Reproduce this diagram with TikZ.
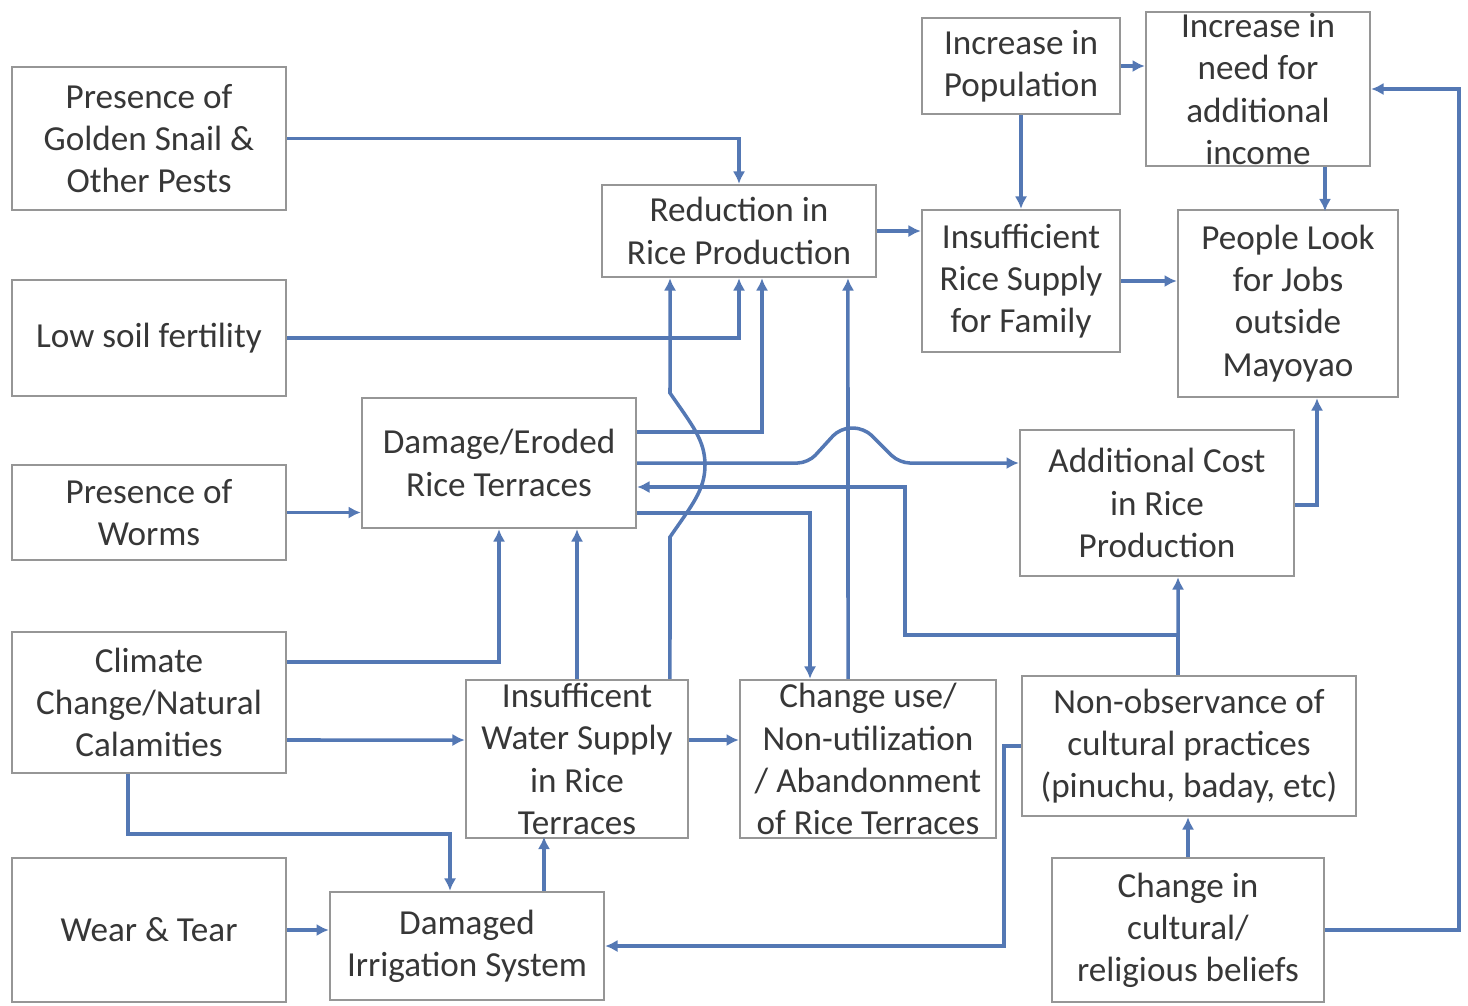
\documentclass[tikz,border=0pt]{standalone}
\usepackage{fontspec}
\setmainfont{Carlito}
\usetikzlibrary{arrows.meta}
\definecolor{linkblue}{RGB}{84,120,180}
\definecolor{boxgray}{RGB}{150,150,150}
\definecolor{labelgray}{RGB}{55,55,55}

\begin{document}
\begin{tikzpicture}[x=0.02cm, y=-0.02cm,
    box/.style 2 args={rectangle, draw=boxgray, line width=1.4pt, fill=white, text=labelgray,
      align=center, inner sep=0pt, minimum width=#1, minimum height=#2,
      font=\fontsize{20}{24}\selectfont},
    link/.style={draw=linkblue, line width=2pt, -{Latex[length=7pt,width=7pt]}}]
      \useasboundingbox (0,0) rectangle (1468,1005);
      \draw
        (149,138.5) node[box={5.48cm}{2.86cm}] (snail){Presence of\\Golden Snail \&\\Other Pests}
        (149,338) node[box={5.48cm}{2.32cm}] (soil){Low soil fertility}
        (149,512.5) node[box={5.48cm}{1.90cm}] (worms){Presence of\\Worms}
        (149,702.5) node[box={5.48cm}{2.82cm}] (climate){Climate\\Change/Natural\\Calamities}
        (149,930) node[box={5.48cm}{2.88cm}] (wear){Wear \& Tear}
        (499,463) node[box={5.48cm}{2.60cm}] (damage){Damage/Eroded\\Rice Terraces}
        (739,231) node[box={5.48cm}{1.84cm}] (reduction){Reduction in\\Rice Production}
        (577,759) node[box={4.44cm}{3.16cm}] (water){Insufficent\\Water Supply\\in Rice\\Terraces}
        (467,946) node[box={5.48cm}{2.16cm}] (irrig){Damaged\\Irrigation System}
        (868,759) node[box={5.12cm}{3.16cm}] (change){Change use/\\Non-utilization\\/ Abandonment\\of Rice Terraces}
        (1189,746) node[box={6.68cm}{2.80cm}] (nonobs){Non-observance of\\cultural practices\\(pinuchu, baday, etc)}
        (1188,930) node[box={5.44cm}{2.88cm}] (beliefs){Change in\\cultural/\\religious beliefs}
        (1157,503) node[box={5.48cm}{2.92cm}] (addcost){Additional Cost\\in Rice\\Production}
        (1021,66) node[box={3.96cm}{1.92cm}] (popul){Increase in\\Population}
        (1258,89) node[box={4.48cm}{3.08cm}] (need){Increase in\\need for\\additional\\income}
        (1021,281) node[box={3.96cm}{2.84cm}] (insuff){Insufficient\\Rice Supply\\for Family}
        (1288,303.5) node[box={4.40cm}{3.74cm}] (people){People Look\\for Jobs\\outside\\Mayoyao};
      \begin{scope}[link]
        \draw (snail.east) -| (reduction.north);
        \draw (soil.east) -| (reduction.south);
        \draw (worms.east) -- (worms.east -| damage.west);
        \draw ([yshift=0.62cm]damage.east) -| ([xshift=0.46cm]reduction.south);
        \draw[rounded corners=6pt] (damage.east) -- ++(171,0) -- ++(32,-35) -- ++(24,0) -- ++(35,35) -- ([yshift=0.8cm]addcost.west);
        \draw ([xshift=-0.22cm]nonobs.north) |- (905,635) |- ([yshift=-0.48cm]damage.east);
        \draw ([xshift=-0.22cm]nonobs.north) -- ([xshift=0.42cm]addcost.south);
        \draw ([yshift=-1cm]damage.east) -| ([xshift=-1.16cm]change.north);
        \draw ([yshift=0.81cm]climate.east) -| (damage.south);
        \draw ([yshift=-0.75cm]climate.east) -- ([yshift=0.38cm]water.west);
        \draw ([xshift=-0.42cm]climate.south) -- ++(0,60) -| ([xshift=-0.34cm]irrig.north);
        \draw (wear.east) -- (wear.east -| irrig.west);
        \draw ([xshift=1.54cm]irrig.north) -- ++(0,-54);
        \draw (water.north) -- (water.north |- damage.south);
        \draw ([xshift=1.86cm]water.north) -- (670,537) .. controls (692,505) and (705,490) .. (705,465)
          .. controls (705,440) and (692,425) .. (670,393) -- ([xshift=-1.38cm]reduction.south);
        \draw ([yshift=0.38cm]water.east) -- ([yshift=0.38cm]change.west);
        \draw ([xshift=-0.4cm]change.north) -- ([xshift=2.18cm]reduction.south);
        \draw (nonobs.west) -- ++(-17,0) |- (irrig.east);
        \draw (beliefs.north) -- (beliefs.north |- nonobs.south);
        \draw (beliefs.east) -- ++(134,0) |- (need.east);
        \draw (popul.east) -- (popul.east -| need.west);
        \draw (popul.south) -- (insuff.north);
        \draw (reduction.east) -- (reduction.east -| insuff.west);
        \draw (insuff.east) -- (insuff.east -| people.west);
        \draw ([xshift=1.34cm]need.south) -- ++(0,44);
        \draw ([yshift=-0.04cm]addcost.east) -| ([xshift=0.58cm]people.south);
      \end{scope}
    \end{tikzpicture}
\end{document}
